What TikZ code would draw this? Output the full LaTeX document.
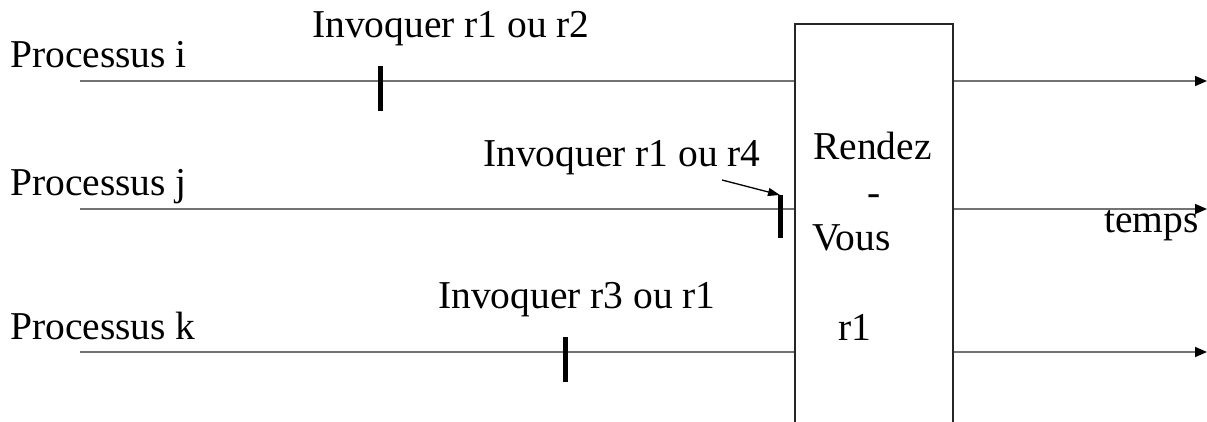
\documentclass[tikz,border=0pt]{standalone}
\usepackage{fontspec}
\setmainfont{Liberation Serif}
\usetikzlibrary{arrows.meta}
\tikzset{
  lbl/.style={anchor=base west, inner sep=0pt, font=\fontsize{39.5}{46}\selectfont},
  tl/.style={draw=black!55, line width=1.6pt, -{Triangle[length=12pt,width=10pt,color=black]}},
  tlin/.style={draw=black!55, line width=1.6pt},
  tick/.style={line width=5pt},
  rv/.style={draw=black!85, line width=1.6pt, minimum width=158pt, minimum height=420pt, inner sep=0pt, anchor=north west},
  pointer/.style={line width=1.3pt, -{Triangle[length=12pt,width=8pt]}}
}
\begin{document}
\begin{tikzpicture}[x=1pt,y=-1pt]
\useasboundingbox (0,0) rectangle (1207,422);
\clip (0,0) rectangle (1207,422);
\fill[white] (0,0) rectangle (1207,422);
\node[rv] (box) at (794,23) {};
% labels
\node[lbl] (pi) at (10,68) {Processus i};
\node[lbl] (pj) at (10,196) {Processus j};
\node[lbl] (pk) at (10,339) {Processus k};
\node[lbl] (ii) at (312,38) {Invoquer r1 ou r2};
\node[lbl] (ij) at (483,167) {Invoquer r1 ou r4};
\node[lbl] (ik) at (438,308) {Invoquer r3 ou r1};
\node[lbl] (tm) at (1104,233) {temps};
\node[lbl] (rd) at (813,160) {Rendez};
\node[lbl] (da) at (867,206) {-};
\node[lbl] (vo) at (812,251) {Vous};
\node[lbl] (r1) at (838,340) {r1};
% time lines
\coordinate (si) at (80,81);
\coordinate (sj) at (80,209);
\coordinate (sk) at (80,352);
\coordinate (ei) at (1207,81);
\coordinate (ej) at (1207,209);
\coordinate (ek) at (1207,352);
\draw[tlin] (si) -- (si -| box.west);
\draw[tlin] (sj) -- (sj -| box.west);
\draw[tlin] (sk) -- (sk -| box.west);
\draw[tl] (si -| box.east) -- (ei);
\draw[tl] (sj -| box.east) -- (ej);
\draw[tl] (sk -| box.east) -- (ek);
% ticks
\coordinate (ti1) at (380,66); \coordinate (ti2) at (380,111);
\coordinate (tj1) at (780,195); \coordinate (tj2) at (780,238);
\coordinate (tk1) at (565,337); \coordinate (tk2) at (565,382);
\draw[tick] (ti1) -- (ti2);
\draw[tick] (tj1) -- (tj2);
\draw[tick] (tk1) -- (tk2);
% pointer
\coordinate (pa) at (722,180);
\draw[pointer] (pa) -- (tj1);
\end{tikzpicture}
\end{document}
